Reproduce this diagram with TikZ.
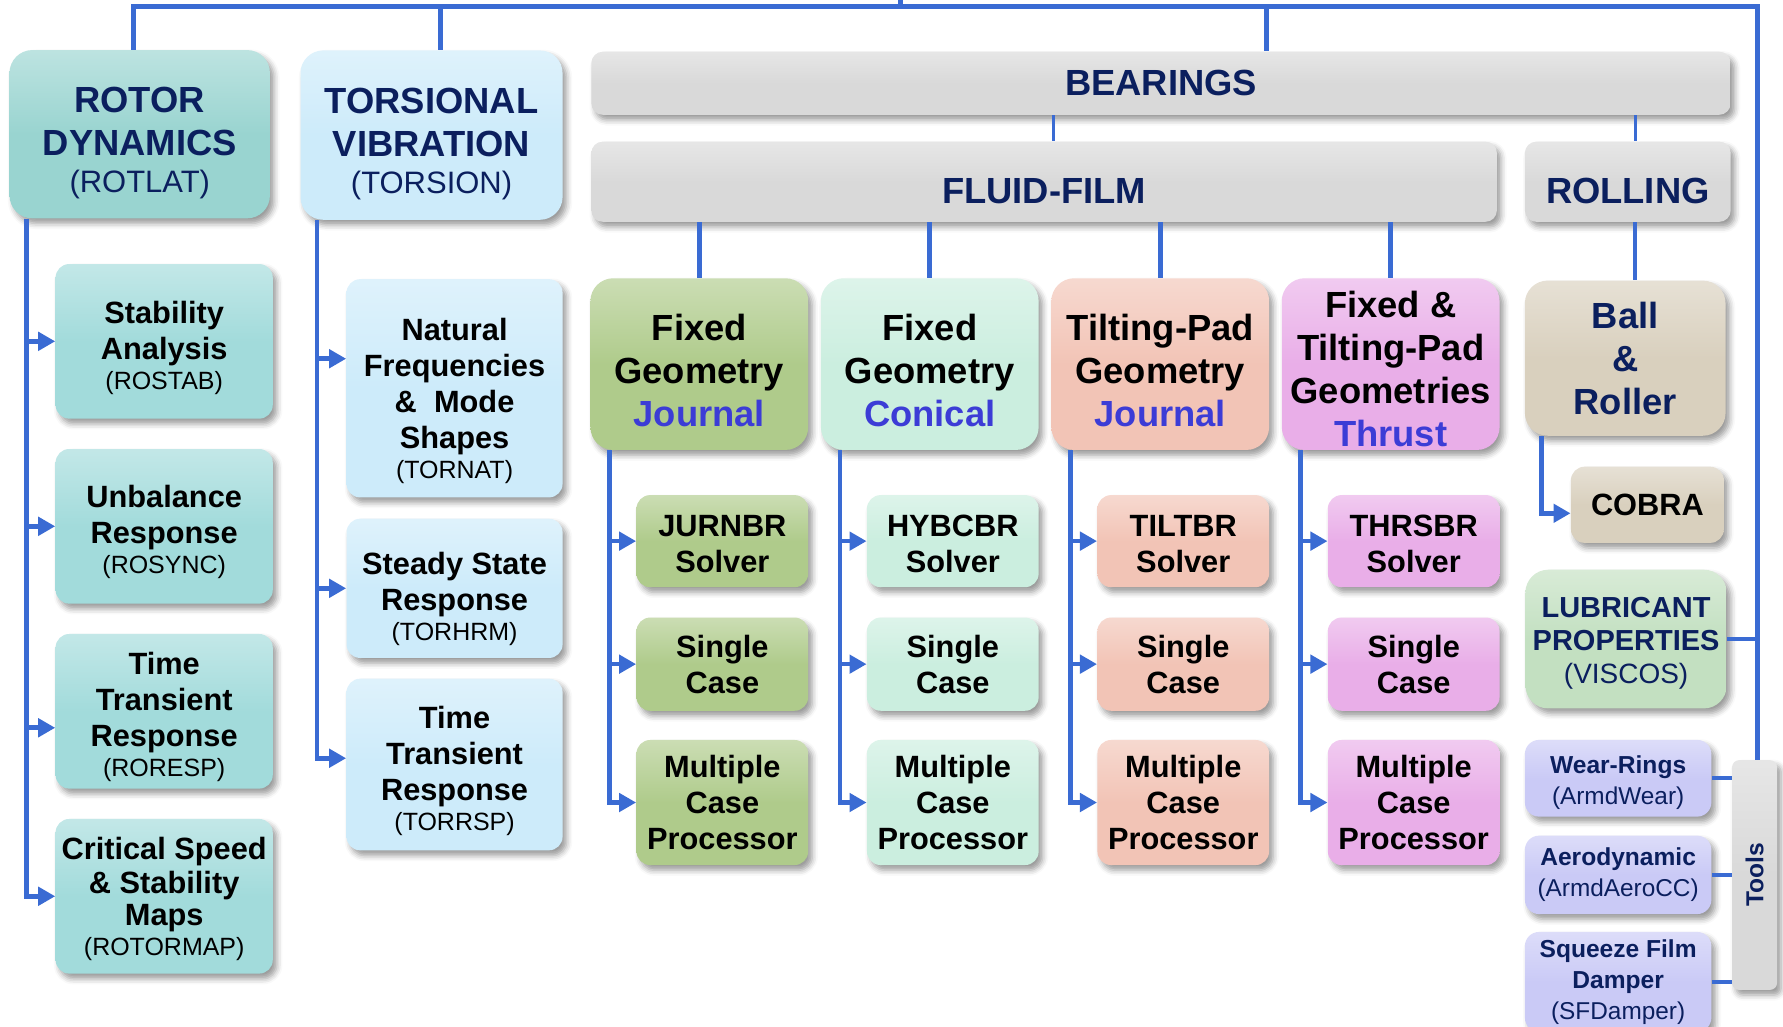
\documentclass[tikz,border=0pt]{standalone}
\usepackage{fontspec}
\setmainfont{Liberation Sans}
\usepackage{graphicx}
\usepackage{tikz}
\usetikzlibrary{arrows.meta, positioning, shadows.blur}
\usepackage{xcolor}
\definecolor{linkblue}{RGB}{58,107,211}
\definecolor{headnavy}{RGB}{11,31,94}
\definecolor{jrnblue}{RGB}{60,60,214}
\definecolor{rotteal}{RGB}{153,212,208}
\definecolor{rotsub}{RGB}{162,219,219}
\definecolor{torblue}{RGB}{205,235,250}
\definecolor{groupgray}{RGB}{217,217,217}
\definecolor{fjgreen}{RGB}{175,203,139}
\definecolor{fcmint}{RGB}{203,238,223}
\definecolor{tjsalmon}{RGB}{242,196,182}
\definecolor{thpink}{RGB}{233,174,232}
\definecolor{rollbeige}{RGB}{217,208,190}
\definecolor{lubgreen}{RGB}{195,224,193}
\definecolor{toolviolet}{RGB}{202,202,246}

\newcommand{\fhead}{\fontsize{18.2pt}{21.5pt}\selectfont\bfseries}
\newcommand{\fheadcode}{\fontsize{15.5pt}{18pt}\selectfont\mdseries}
\newcommand{\fsub}{\fontsize{15.4pt}{18pt}\selectfont\bfseries}
\newcommand{\fsubcode}{\fontsize{12.5pt}{15pt}\selectfont\mdseries}
\newcommand{\flub}{\fontsize{14.5pt}{16.5pt}\selectfont\bfseries}
\newcommand{\ftool}{\fontsize{12.3pt}{15.6pt}\selectfont\bfseries}
\newcommand{\ftoolcode}{\fontsize{12.2pt}{15.6pt}\selectfont\mdseries}
% invisible strut on the first line, lowers the text block in its box
\newcommand{\topgap}[1]{\rule{0pt}{#1}}

\begin{document}
\begin{tikzpicture}[
    x=0.02cm, y=-0.02cm,
    box/.style={rounded corners=0.24cm, top color=#1!65!white, bottom color=#1, middle color=#1,
                blur shadow={shadow xshift=0.07cm, shadow yshift=-0.09cm, shadow blur radius=0.1cm},
                align=center, inner sep=2pt},
    head/.style={box=#1, rounded corners=0.4cm, font=\fhead, text=headnavy},
    group/.style={box=groupgray, rounded corners=0.2cm, font=\fhead, text=headnavy},
    kind/.style={box=#1, rounded corners=0.4cm, font=\fhead,
                 minimum width=3.83cm, minimum height=3.02cm},
    rsub/.style={box=#1, font=\fsub, minimum width=3.82cm, minimum height=2.72cm},
    bsub/.style={box=#1, font=\fsub, minimum width=3.02cm},
    tool/.style={box=toolviolet, rounded corners=0.25cm, font=\ftool, text=headnavy,
                 minimum width=3.28cm},
    conn/.style={draw=linkblue, line width=2.3pt},
    thinconn/.style={draw=linkblue, line width=1.6pt},
    arr/.style={conn, -{Triangle[length=0.3cm, width=0.32cm]}},
  ]
    \useasboundingbox (0,0) rectangle (1568,903);

    % top level
    \node[head=rotteal, minimum width=4.58cm, minimum height=2.96cm] (rotor) at (122.9,118)
      {\topgap{21.5pt}ROTOR\\DYNAMICS\\[-2.8pt]{\fheadcode (ROTLAT)}};
    \node[head=torblue, minimum width=4.61cm, minimum height=2.98cm] (tors) at (379.5,118.8)
      {\topgap{21.5pt}TORSIONAL\\VIBRATION\\[-2.8pt]{\fheadcode (TORSION)}};
    \node[group, minimum width=20.04cm, minimum height=1.11cm] (bear) at (1021,73.2) {BEARINGS};
    \node[group, minimum width=15.93cm, minimum height=1.41cm, text height=22pt, text depth=0pt]
      (fluid) at (918.2,159.8) {FLUID-FILM};
    \node[group, minimum width=3.62cm, minimum height=1.41cm, text height=22pt, text depth=0pt]
      (rolling) at (1431.5,159.8) {ROLLING};

    % rotor dynamics
    \node[rsub=rotsub, below left=0.79cm and -0.05cm of rotor.south east] (rstab)
      {\topgap{17.5pt}Stability\\Analysis\\[-3pt]{\fsubcode (ROSTAB)}};
    \node[rsub=rotsub, below=0.52cm of rstab] (runb)
      {\topgap{16.5pt}Unbalance\\Response\\[-3pt]{\fsubcode (ROSYNC)}};
    \node[rsub=rotsub, below=0.52cm of runb] (rtime)
      {\topgap{17pt}Time\\Transient\\Response\\[-3pt]{\fsubcode (RORESP)}};
    \node[rsub=rotsub, below=0.52cm of rtime] (rcrit)
      {\topgap{14pt}Critical Speed\\[-1pt]\& Stability\\[-2pt]Maps\\[-3pt]{\fsubcode (ROTORMAP)}};

    % torsional vibration
    \node[rsub=torblue, minimum width=3.8cm, minimum height=3.84cm,
          below left=1.03cm and 0cm of tors.south east] (tnat)
      {\topgap{23.5pt}Natural\\Frequencies\\\& ~Mode\\Shapes\\[-3pt]{\fsubcode (TORNAT)}};
    \node[rsub=torblue, minimum width=3.8cm, minimum height=2.45cm, below=0.36cm of tnat] (tsteady)
      {\topgap{22pt}Steady State\\Response\\[-3pt]{\fsubcode (TORHRM)}};
    \node[rsub=torblue, minimum width=3.8cm, minimum height=3.02cm, below=0.35cm of tsteady] (ttime)
      {\topgap{17.5pt}Time\\Transient\\Response\\[-3pt]{\fsubcode (TORRSP)}};

    % fluid-film bearing kinds
    \node[kind=fjgreen] (jfix) at (615,320.2) {\topgap{20pt}Fixed\\Geometry\\{\color{jrnblue}Journal}};
    \node[kind=fcmint, right=0.21cm of jfix] (cfix) {\topgap{20pt}Fixed\\Geometry\\{\color{jrnblue}Conical}};
    \node[kind=tjsalmon, right=0.21cm of cfix] (tjour)
      {\topgap{20pt}Tilting-Pad\\Geometry\\{\color{jrnblue}Journal}};
    \node[kind=thpink, right=0.21cm of tjour, inner sep=1pt] (thr)
      {\topgap{18.5pt}Fixed \&\\Tilting-Pad\\Geometries\\{\color{jrnblue}Thrust}};

    \node[bsub=fjgreen, minimum height=1.62cm, below left=0.78cm and 0cm of jfix.south east] (jsolv)
      {\topgap{14pt}JURNBR\\Solver};
    \node[bsub=fjgreen, minimum height=1.64cm, below=0.52cm of jsolv] (jsing) {Single\\Case};
    \node[bsub=fjgreen, minimum height=2.2cm, below=0.5cm of jsing] (jmult) {Multiple\\Case\\Processor};

    \node[bsub=fcmint, minimum height=1.62cm, below left=0.78cm and 0cm of cfix.south east] (csolv)
      {\topgap{14pt}HYBCBR\\Solver};
    \node[bsub=fcmint, minimum height=1.64cm, below=0.52cm of csolv] (csing) {Single\\Case};
    \node[bsub=fcmint, minimum height=2.2cm, below=0.5cm of csing] (cmult) {Multiple\\Case\\Processor};

    \node[bsub=tjsalmon, minimum height=1.62cm, below left=0.78cm and 0cm of tjour.south east] (tsolv)
      {\topgap{14pt}TILTBR\\Solver};
    \node[bsub=tjsalmon, minimum height=1.64cm, below=0.52cm of tsolv] (tsing) {Single\\Case};
    \node[bsub=tjsalmon, minimum height=2.2cm, below=0.5cm of tsing] (tmult) {Multiple\\Case\\Processor};

    \node[bsub=thpink, minimum height=1.62cm, below left=0.78cm and 0cm of thr.south east] (hsolv)
      {\topgap{14pt}THRSBR\\Solver};
    \node[bsub=thpink, minimum height=1.64cm, below=0.52cm of hsolv] (hsing) {Single\\Case};
    \node[bsub=thpink, minimum height=2.2cm, below=0.5cm of hsing] (hmult) {Multiple\\Case\\Processor};

    % rolling, lubricant, tools
    \node[head=rollbeige, minimum width=3.53cm, minimum height=2.73cm,
          below right=1.02cm and 0cm of rolling.south west] (ball) {Ball\\\&\\Roller};
    \node[bsub=rollbeige, minimum width=2.69cm, minimum height=1.34cm,
          below left=0.53cm and 0.03cm of ball.south east] (cobra) {COBRA};
    \node[head=lubgreen, font=\flub, minimum width=3.54cm, minimum height=2.44cm] (lub) at (1430,562)
      {\topgap{14pt}LUBRICANT\\PROPERTIES\\{\fheadcode\fontsize{14pt}{16.5pt}\selectfont (VISCOS)}};
    \node[tool, minimum height=1.35cm] (wear) at (1423,684.4)
      {\topgap{13pt}Wear-Rings\\{\ftoolcode (ArmdWear)}};
    \node[tool, minimum height=1.38cm, below=0.32cm of wear] (aero) {Aerodynamic\\{\ftoolcode (ArmdAeroCC)}};
    \node[tool, minimum height=1.76cm, below=0.3cm of aero] (sfd) {Squeeze Film\\Damper\\{\ftoolcode (SFDamper)}};
    \node[group, rounded corners=0.12cm, font=\ftool, minimum width=0.79cm, minimum height=4.04cm]
      (tools) at (1543,769.5) {\rotatebox{90}{Tools}};

    % top bus
    \coordinate (topL) at (117.8,6);
    \coordinate (topT) at (387.6,6);
    \coordinate (topC) at (792,6);
    \coordinate (tick) at (792,0);
    \coordinate (topB) at (1114,6);
    \coordinate (topR) at (1545.5,6);
    \draw[conn, line width=2.5pt] (topL |- rotor.north) -- (topL) -- (topR) -- (topR |- tools.north);
    \draw[conn] (topT) -- (topT |- tors.north);
    \draw[conn] (topC) -- (tick);
    \draw[conn] (topB) -- (topB |- bear.north);
    \draw[conn] (lub.east) -- (lub.east -| topR);

    % bearings tree
    \coordinate (bfx) at ([xshift=0.16cm]fluid.north);
    \coordinate (rbx) at ([xshift=0.13cm]rolling.south);
    \draw[thinconn] (bfx |- bear.south) -- (bfx);
    \draw[thinconn] (rbx |- bear.south) -- (rbx |- rolling.north);
    \draw[conn] (rbx) -- (rbx |- ball.north);
    \draw[conn] (jfix.north |- fluid.south) -- (jfix.north);
    \draw[conn] (cfix.north |- fluid.south) -- (cfix.north);
    \draw[conn] (tjour.north |- fluid.south) -- (tjour.north);
    \draw[conn] (thr.north |- fluid.south) -- (thr.north);

    % rotor trunk
    \coordinate (rtr) at ([xshift=0.3cm]rotor.south west);
    \coordinate (rtimein) at ([yshift=-0.29cm]rtime.west);
    \draw[arr] (rtr) |- (rcrit.west);
    \draw[arr] (rtr |- rstab.west) -- (rstab.west);
    \draw[arr] (rtr |- runb.west) -- (runb.west);
    \draw[arr] (rtr |- rtimein) -- (rtimein);

    % torsion trunk
    \coordinate (ttr) at ([xshift=0.3cm]tors.south west);
    \coordinate (tnatin) at ([yshift=0.52cm]tnat.west);
    \coordinate (ttimein) at ([yshift=0.11cm]ttime.west);
    \draw[arr] (ttr) |- (ttimein);
    \draw[arr] (ttr |- tnatin) -- (tnatin);
    \draw[arr] (ttr |- tsteady.west) -- (tsteady.west);

    % bearing trunks
    \coordinate (jtr) at ([xshift=0.34cm]jfix.south west);
    \draw[arr] (jtr) |- (jmult.west);
    \draw[arr] (jtr |- jsolv.west) -- (jsolv.west);
    \draw[arr] (jtr |- jsing.west) -- (jsing.west);
    \coordinate (ctr) at ([xshift=0.34cm]cfix.south west);
    \draw[arr] (ctr) |- (cmult.west);
    \draw[arr] (ctr |- csolv.west) -- (csolv.west);
    \draw[arr] (ctr |- csing.west) -- (csing.west);
    \coordinate (ttr2) at ([xshift=0.34cm]tjour.south west);
    \draw[arr] (ttr2) |- (tmult.west);
    \draw[arr] (ttr2 |- tsolv.west) -- (tsolv.west);
    \draw[arr] (ttr2 |- tsing.west) -- (tsing.west);
    \coordinate (htr) at ([xshift=0.34cm]thr.south west);
    \draw[arr] (htr) |- (hmult.west);
    \draw[arr] (htr |- hsolv.west) -- (hsolv.west);
    \draw[arr] (htr |- hsing.west) -- (hsing.west);

    % rolling and tools
    \coordinate (btr) at ([xshift=0.3cm]ball.south west);
    \coordinate (cobrain) at ([yshift=-0.15cm]cobra.west);
    \draw[arr] (btr) |- (cobrain);
    \draw[conn, line width=1.8pt] (wear.east) -- (wear.east -| tools.west);
    \draw[conn, line width=1.8pt] (aero.east) -- (aero.east -| tools.west);
    \draw[conn, line width=1.8pt] (sfd.east) -- (sfd.east -| tools.west);
  \end{tikzpicture}
\end{document}
